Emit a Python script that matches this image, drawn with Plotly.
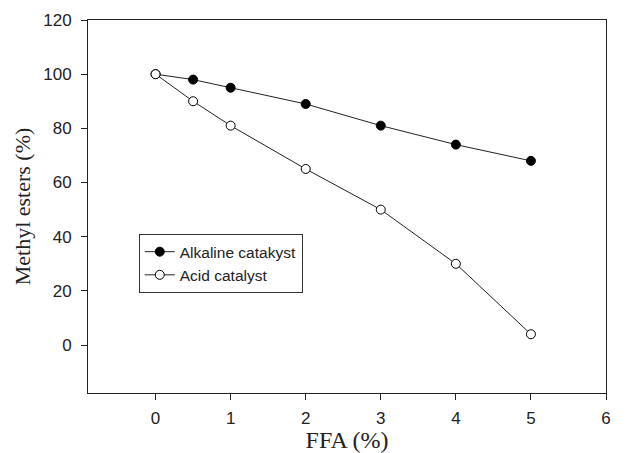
import plotly.graph_objects as go

ffa = [0, 0.5, 1, 2, 3, 4, 5]
alkaline = [100, 98, 95, 89, 81, 74, 68]
acid = [100, 90, 81, 65, 50, 30, 4]

x_ticks = [0, 1, 2, 3, 4, 5, 6]
y_ticks = [0, 20, 40, 60, 80, 100, 120]

fig = go.Figure()
fig.add_trace(go.Scatter(
    x=ffa, y=alkaline, mode="lines+markers", name="Alkaline catakyst",
    line=dict(color="#222222", width=1),
    marker=dict(symbol="circle", size=9, color="black", line=dict(color="black", width=1)),
))
fig.add_trace(go.Scatter(
    x=ffa, y=acid, mode="lines+markers", name="Acid catalyst",
    line=dict(color="#222222", width=1),
    marker=dict(symbol="circle", size=9, color="white", line=dict(color="black", width=1)),
))

fig.update_layout(
    width=618, height=445,
    margin=dict(l=80, r=20, t=12, b=60),
    plot_bgcolor="white", paper_bgcolor="white",
    font=dict(family="Arial, Liberation Sans", size=17, color="#222222"),
    showlegend=True,
    legend=dict(
        x=0.098, y=0.426, xanchor="left", yanchor="top",
        bordercolor="#333333", borderwidth=1, bgcolor="white",
        font=dict(family="Arial, Liberation Sans", size=15.5, color="#222222"),
        tracegroupgap=0, itemwidth=30,
    ),
    xaxis=dict(
        range=[-0.9, 6], tickvals=x_ticks, ticks="outside", ticklen=6,
        tickcolor="#222222", showline=True, linecolor="#222222", linewidth=1,
        mirror=True, showgrid=False, zeroline=False, automargin=False,
        ticklabelstandoff=4,
        title=dict(text="FFA (%)", font=dict(family="Times New Roman, Liberation Serif", size=24), standoff=4),
    ),
    yaxis=dict(
        range=[-17.7, 120], tickvals=y_ticks, ticks="outside", ticklen=6,
        tickcolor="#222222", showline=True, linecolor="#222222", linewidth=1,
        mirror=True, showgrid=False, zeroline=False, automargin=False,
        ticklabelstandoff=6,
        title=dict(text="Methyl esters (%)", font=dict(family="Times New Roman, Liberation Serif", size=22), standoff=6),
    ),
)

fig.write_html("out.html")
